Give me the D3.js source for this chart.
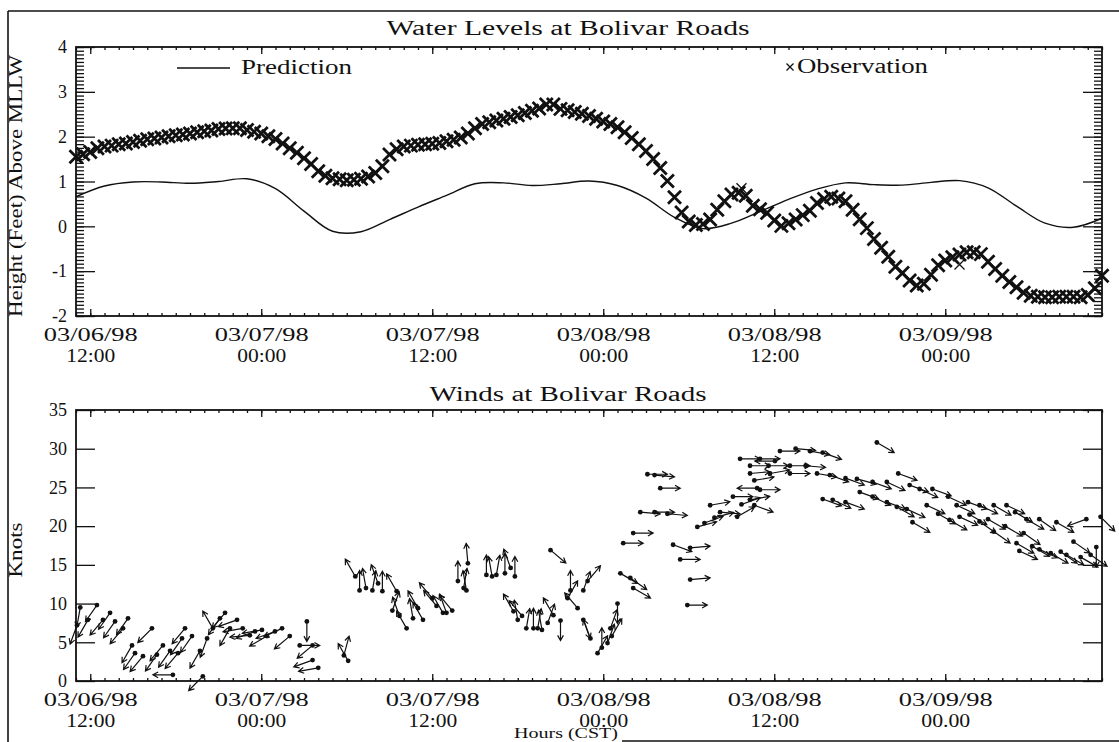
<!DOCTYPE html>
<html><head><meta charset="utf-8">
<script src="https://cdn.jsdelivr.net/npm/d3@7"></script>
<style>
body{margin:0;background:#fff}
text{font-family:"Liberation Serif","DejaVu Serif",serif;fill:#111}
</style>
</head><body>
<svg id="c" width="1119" height="742"></svg>
<script>
// ---------------- data ----------------
const tickDateLabels = ["03/06/98","03/07/98","03/07/98","03/08/98","03/08/98","03/09/98"];
const tickTimeLabelsTop = ["12:00","00:00","12:00","00:00","12:00","00:00"];
const tickTimeLabelsBottom = ["12:00","00:00","12:00","00:00","12:00","00.00"];
const levelTicks = [-2,-1,0,1,2,3,4];
const knotTicks = [0,5,10,15,20,25,30,35];

// hours after 03/06/98 11:00 CST
const predStepHours = 2;
const prediction = [0.66,0.90,0.99,0.99,0.96,1.00,1.06,0.84,0.34,-0.11,-0.12,0.15,0.43,0.69,0.95,0.97,0.91,0.95,1.01,0.91,0.63,0.20,-0.05,0.07,0.33,0.60,0.83,0.97,0.93,0.92,0.98,1.02,0.86,0.45,0.07,-0.02,0.18];

const obsStepHours = 0.5;
const observation = [
1.55,1.61,1.66,1.74,1.78,1.80,1.83,1.85,1.88,1.91,
1.94,1.96,1.98,2.01,2.03,2.05,2.07,2.10,2.12,2.14,
2.17,2.18,2.19,2.19,2.15,2.11,2.07,2.01,1.95,1.85,
1.74,1.64,1.52,1.39,1.23,1.13,1.07,1.05,1.03,1.04,
1.06,1.11,1.19,1.34,1.60,1.72,1.78,1.80,1.82,1.83,
1.84,1.86,1.90,1.93,1.98,2.07,2.19,2.28,2.32,2.36,
2.40,2.44,2.48,2.53,2.58,2.63,2.72,2.72,2.62,2.59,
2.55,2.51,2.46,2.40,2.34,2.28,2.21,2.10,1.97,1.83,
1.68,1.50,1.30,1.01,0.65,0.31,0.11,0.03,0.05,0.15,
0.37,0.56,0.71,0.75,0.68,0.46,0.38,0.30,0.13,0.01,
0.07,0.15,0.25,0.35,0.52,0.61,0.66,0.62,0.56,0.37,
0.16,-0.04,-0.28,-0.48,-0.68,-0.90,-1.04,-1.21,-1.32,-1.28,
-1.08,-0.87,-0.76,-0.69,-0.63,-0.58,-0.58,-0.62,-0.79,-0.95,
-1.10,-1.24,-1.36,-1.48,-1.55,-1.57,-1.58,-1.58,-1.57,-1.57,
-1.57,-1.58,-1.53,-1.38,-1.10];
const obsExtraHours = [46.7, 62.0];
const obsExtraValues = [0.85, -0.85];

// wind: dot at (hour, speed), arrow pointing toward compass direction (deg)
const windHour = [
0.07,0.3,0.84,1.47,1.89,2.39,2.74,3.3,3.65,3.93,4.14,4.7,5.33,5.68,6.1,6.6,6.8,7.16,7.44,7.65,
8.14,8.7,8.9,9.2,9.6,10.1,10.46,10.8,11.3,11.7,12.2,12.56,13.05,13.4,13.96,14.46,15.0,15.7,16.2,16.6,
16.6,17.0,18.8,19.1,
19.6,19.9,20.35,20.8,21.2,21.5,22.2,22.5,22.7,23.2,23.65,24.0,24.35,
25.0,25.3,25.75,26.0,26.4,26.8,27.2,27.4,27.5,
28.8,29.2,29.5,30.1,30.5,30.8,
30.7,31.0,31.3,31.6,32.1,32.4,32.7,33.1,33.3,33.5,34.0,34.5,34.7,35.2,35.6,35.9,35.6,36.1,36.6,36.9,37.3,37.6,
38.0,37.5,38.2,38.9,39.1,38.4,39.1,
40.1,40.6,41.0,39.6,40.6,41.5,41.9,43.1,42.4,43.1,42.9,
43.6,44.1,44.5,44.8,45.2,46.1,46.4,46.7,47.3,47.6,48.0,
46.6,48.0,49.05,47.3,48.6,50.1,51.2,49.4,50.5,51.5,52.4,47.3,48.7,50.1,52.0,47.6,47.8,
52.9,54.0,54.8,55.9,56.9,57.7,58.5,59.2,60.1,61.2,61.8,62.6,63.4,64.4,65.3,65.9,66.7,67.6,68.8,70.9,71.9,
52.4,53.1,54.0,55.0,55.9,56.9,57.6,58.3,58.7,59.7,60.5,61.3,62.0,62.7,63.4,64.0,64.4,65.2,66.0,66.5,
66.2,67.1,67.6,68.4,69.1,69.5,70.0,70.5,71.2,71.6,
56.2];
const windSpeed = [
7.2,9.5,7.9,9.8,7.9,8.8,7.7,6.8,8.1,4.6,3.6,3.2,6.8,3.4,4.6,3.9,0.8,3.6,5.5,6.8,
5.8,3.9,0.6,5.5,6.8,8.1,8.8,6.8,7.9,6.8,5.9,6.4,6.6,5.8,6.4,6.8,5.8,4.6,7.7,4.6,
2.7,1.7,3.3,2.6,
13.5,11.7,12.0,11.7,12.6,11.6,9.1,11.6,8.4,6.8,8.1,9.4,7.9,
10.7,9.7,8.8,8.8,9.1,12.9,12.0,11.7,15.2,
13.7,13.5,13.7,13.9,14.6,13.5,
9.0,7.9,8.4,6.8,6.8,6.8,6.6,7.5,16.9,8.5,7.8,10.7,11.7,9.4,11.7,12.9,7.9,5.5,3.6,4.3,4.9,5.8,
10.0,6.8,13.9,13.3,12.0,17.8,19.1,
26.7,26.6,24.9,21.8,21.8,21.6,17.6,17.2,15.7,13.1,9.8,
19.9,20.4,22.7,21.1,21.8,23.8,21.2,22.8,23.4,22.7,24.7,
28.7,28.7,28.4,27.8,27.8,27.8,27.8,29.7,30.0,29.7,29.5,26.8,26.8,26.8,26.8,25.9,24.9,
26.6,26.2,26.1,25.7,25.7,26.8,25.3,24.8,24.8,23.8,22.7,23.1,22.7,22.7,22.7,21.8,20.9,20.9,20.5,20.9,21.2,
23.5,23.4,23.1,24.4,23.8,23.1,22.5,22.2,20.5,22.7,21.6,20.8,21.2,21.5,20.6,20.9,19.3,20.0,17.8,19.1,
16.8,17.4,17.0,16.5,16.7,16.3,18.0,16.0,16.3,17.3,
30.8];
const windToward = [
200,190,210,215,220,215,215,220,215,210,215,220,225,215,220,215,270,220,215,220,
215,210,225,200,330,215,220,210,250,260,265,250,260,240,250,245,230,90,180,230,
250,260,15,330,
330,0,350,10,340,0,20,330,340,330,350,330,330,
320,320,330,340,320,0,10,350,355,
0,350,10,0,340,0,
330,350,320,10,0,10,350,20,130,330,180,30,0,320,20,40,160,340,30,0,20,30,
180,20,120,125,120,90,90,
90,95,90,95,90,95,110,85,90,85,90,
75,70,80,75,95,90,60,70,80,110,90,
90,90,270,90,90,90,95,90,95,100,110,85,80,90,100,80,270,
110,110,105,110,115,110,110,115,110,115,115,110,115,120,115,120,120,125,120,250,135,
110,115,110,110,115,110,120,115,120,115,120,120,115,120,125,120,125,120,120,125,
115,120,115,120,125,120,125,120,125,180,
120];

// ---------------- drawing ----------------
const svg = d3.select("#c");
const FONT = '"Liberation Serif","DejaVu Serif",serif';
const HOUR = 3600e3;
const t0 = Date.UTC(1998,2,6,11);
const X0 = 76, X1 = 1102;
const x = d3.scaleUtc().domain([t0, t0 + 72*HOUR]).range([X0, X1]);
const yL = d3.scaleLinear().domain([-2,4]).range([316,47]);
const yW = d3.scaleLinear().domain([0,35]).range([681,410]);
const T = h => new Date(t0 + h*HOUR);
const major = x.ticks(d3.utcHour.every(12));
const minor = x.ticks(d3.utcHour.every(1));

// outer frame
svg.append("line").attr("x1",8).attr("x2",1119).attr("y1",11).attr("y2",11).attr("stroke","#111").attr("stroke-width",1.6);
svg.append("line").attr("x1",8).attr("x2",8).attr("y1",11).attr("y2",742).attr("stroke","#111").attr("stroke-width",1.6);
svg.append("line").attr("x1",622).attr("x2",1119).attr("y1",741).attr("y2",741).attr("stroke","#111").attr("stroke-width",1.6);

function txt(s, xx, yy, len, opts={}){
  const t = svg.append("text").attr("x",xx).attr("y",yy).text(s)
    .attr("font-size", opts.size||20).attr("text-anchor", opts.anchor||"middle");
  if(len){ t.attr("textLength",len).attr("lengthAdjust","spacingAndGlyphs"); }
  if(opts.rotate){ t.attr("transform",`rotate(-90,${xx},${yy})`); }
  return t;
}

function xAxes(top, bottom, timeLabels){
  const clean = g => g.select(".domain").remove();
  svg.append("g").attr("transform",`translate(0,${bottom})`)
    .call(d3.axisBottom(x).tickValues(minor).tickSize(-3).tickSizeOuter(0).tickFormat(""))
    .call(clean);
  const gb = svg.append("g").attr("transform",`translate(0,${bottom})`)
    .call(d3.axisBottom(x).tickValues(major).tickSize(-7).tickSizeOuter(0).tickFormat(""))
    .call(clean);
  gb.selectAll(".tick").each(function(d,i){
    const g = d3.select(this);
    g.append("text").attr("y",25).attr("text-anchor","middle").attr("font-size",18).attr("font-family",FONT)
      .attr("fill","#111").attr("textLength",94).attr("lengthAdjust","spacingAndGlyphs").text(tickDateLabels[i]);
    g.append("text").attr("y",46).attr("text-anchor","middle").attr("font-size",18).attr("font-family",FONT)
      .attr("fill","#111").attr("textLength",49).attr("lengthAdjust","spacingAndGlyphs").text(timeLabels[i]);
  });
  svg.append("g").attr("transform",`translate(0,${top})`)
    .call(d3.axisTop(x).tickValues(minor).tickSize(-3).tickSizeOuter(0).tickFormat(""))
    .call(clean);
  svg.append("g").attr("transform",`translate(0,${top})`)
    .call(d3.axisTop(x).tickValues(major).tickSize(-7).tickSizeOuter(0).tickFormat(""))
    .call(clean);
  svg.selectAll(".tick line").attr("stroke","#111").attr("stroke-width",1.3);
}

// ---------- top chart ----------
txt("Water Levels at Bolivar Roads", 568, 35, 363);
const minorLevels = d3.range(-24, 49).map(k => k/12);
svg.append("g").attr("transform",`translate(${X0},0)`)
  .call(d3.axisLeft(yL).tickValues(minorLevels).tickSize(-8).tickSizeOuter(0).tickFormat(""))
  .call(g=>g.select(".domain").remove());
svg.append("g").attr("transform",`translate(${X0},0)`)
  .call(d3.axisLeft(yL).tickValues(levelTicks).tickSize(-19).tickPadding(9).tickSizeOuter(0).tickFormat(d=>String(d)))
  .call(g=>g.select(".domain").remove())
  .call(g=>g.selectAll("text").attr("font-size",18).attr("fill","#111").attr("font-family",FONT));
svg.append("g").attr("transform",`translate(${X1},0)`)
  .call(d3.axisRight(yL).tickValues(minorLevels).tickSize(-8).tickSizeOuter(0).tickFormat(""))
  .call(g=>g.select(".domain").remove());
svg.append("g").attr("transform",`translate(${X1},0)`)
  .call(d3.axisRight(yL).tickValues(levelTicks).tickSize(-19).tickSizeOuter(0).tickFormat(""))
  .call(g=>g.select(".domain").remove());
xAxes(47, 316, tickTimeLabelsTop);
svg.append("rect").attr("x",X0).attr("y",47).attr("width",X1-X0).attr("height",316-47)
  .attr("fill","none").attr("stroke","#111").attr("stroke-width",1.8);
txt("Height (Feet) Above MLLW", 22, 186, 262, {rotate:true, size:19});

// prediction line
svg.append("path").datum(prediction)
  .attr("fill","none").attr("stroke","#111").attr("stroke-width",1.4)
  .attr("d", d3.line().x((d,i)=>x(T(i*predStepHours))).y(d=>yL(d)).curve(d3.curveCatmullRom));

// observation markers
const xm = "M-6.5,-6.5L6.5,6.5M-6.5,6.5L6.5,-6.5";
svg.append("g").selectAll("path").data(observation).join("path")
  .attr("d", xm).attr("transform",(d,i)=>`translate(${x(T(i*obsStepHours))},${yL(d)})`)
  .attr("stroke","#111").attr("stroke-width",2.8).attr("fill","none");
svg.append("g").selectAll("path").data(obsExtraValues).join("path")
  .attr("d", "M-5,-5L5,5M-5,5L5,-5").attr("transform",(d,i)=>`translate(${x(T(obsExtraHours[i]))},${yL(d)})`)
  .attr("stroke","#111").attr("stroke-width",1.3).attr("fill","none");

// legend
svg.append("line").attr("x1",177).attr("x2",230).attr("y1",68).attr("y2",68).attr("stroke","#111").attr("stroke-width",1.4);
txt("Prediction", 241, 74, 111, {anchor:"start"});
svg.append("path").attr("d","M-3.5,-3.5L3.5,3.5M-3.5,3.5L3.5,-3.5").attr("transform","translate(790,67)")
  .attr("stroke","#111").attr("stroke-width",1.3);
txt("Observation", 797, 73, 131, {anchor:"start"});

// ---------- bottom chart ----------
txt("Winds at Bolivar Roads", 568, 401, 277);
svg.append("g").attr("transform",`translate(${X0},0)`)
  .call(d3.axisLeft(yW).tickValues(knotTicks).tickSize(-19).tickPadding(9).tickSizeOuter(0).tickFormat(d=>String(d)))
  .call(g=>g.select(".domain").remove())
  .call(g=>g.selectAll("text").attr("font-size",18).attr("fill","#111").attr("font-family",FONT));
svg.append("g").attr("transform",`translate(${X1},0)`)
  .call(d3.axisRight(yW).tickValues(knotTicks).tickSize(-19).tickSizeOuter(0).tickFormat(""))
  .call(g=>g.select(".domain").remove());
xAxes(410, 681, tickTimeLabelsBottom);
svg.append("rect").attr("x",X0).attr("y",410).attr("width",X1-X0).attr("height",681-410)
  .attr("fill","none").attr("stroke","#111").attr("stroke-width",1.8);
txt("Knots", 22, 550, 55, {rotate:true, size:19});
txt("Hours (CST)", 566, 738, 104, {size:15});

// wind arrows
const L = 20, HL = 6, HA = 0.5;
const wg = svg.append("g");
windHour.forEach((h,i)=>{
  const px = x(T(h)), py = yW(windSpeed[i]);
  const th = windToward[i]*Math.PI/180;
  const tx = px + L*Math.sin(th), ty = py - L*Math.cos(th);
  const b = th + Math.PI;
  const p = `M${px},${py}L${tx},${ty}M${tx + HL*Math.sin(b-HA)},${ty - HL*Math.cos(b-HA)}L${tx},${ty}L${tx + HL*Math.sin(b+HA)},${ty - HL*Math.cos(b+HA)}`;
  wg.append("path").attr("d",p).attr("fill","none").attr("stroke","#111").attr("stroke-width",1.2);
  wg.append("circle").attr("cx",px).attr("cy",py).attr("r",2.4).attr("fill","#111");
});
</script>
</body></html>
